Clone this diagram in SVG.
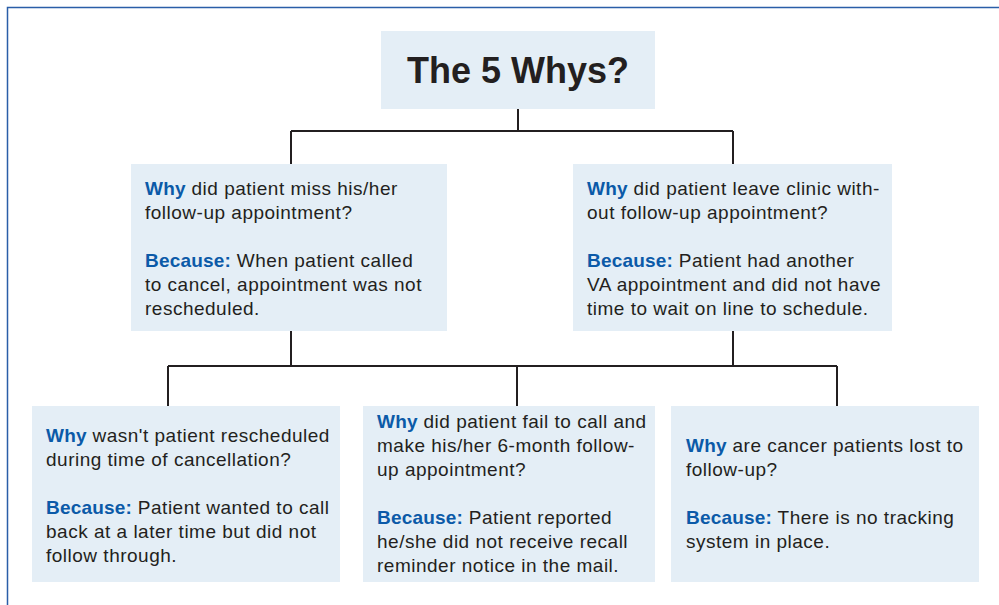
<svg xmlns="http://www.w3.org/2000/svg" width="999" height="605" viewBox="0 0 999 605">
<style>
.box{fill:#e4eef6}
.t{font-family:"Liberation Sans",Arial,sans-serif;font-size:19px;letter-spacing:0.5px;fill:#231f20}
.b{font-weight:bold;fill:#0b5aa8;letter-spacing:0.2px}
.title{font-family:"Liberation Sans",Arial,sans-serif;font-size:36px;font-weight:bold;fill:#231f20}
.c{fill:none;stroke:#231f20;stroke-width:2}
</style>
<rect width="999" height="605" fill="#ffffff"/>
<path d="M7.5,605 V7.5 H999" fill="none" stroke="#2a5ea8" stroke-width="1.5"/>
<g id="connectors">
<path class="c" d="M518,109 V131 M291,131 H733 M291,131 V164 M733,131 V164"/>
<path class="c" d="M291,331 V366 M733,331 V366 M168,366 H837 M168,366 V406 M517,366 V406 M837,366 V406"/>
</g>
<g id="title">
<rect class="box" x="381" y="31" width="274" height="78"/>
<text class="title" x="518" y="83" text-anchor="middle">The 5 Whys?</text>
</g>
<g id="why1">
<rect class="box" x="131" y="164" width="316" height="167"/>
<text class="t" x="145" y="195"><tspan class="b">Why</tspan> did patient miss his/her</text>
<text class="t" x="145" y="219">follow-up appointment?</text>
<text class="t" x="145" y="267"><tspan class="b">Because:</tspan> When patient called</text>
<text class="t" x="145" y="291">to cancel, appointment was not</text>
<text class="t" x="145" y="315">rescheduled.</text>
</g>
<g id="why2">
<rect class="box" x="573" y="164" width="319" height="167"/>
<text class="t" x="587" y="195"><tspan class="b">Why</tspan> did patient leave clinic with-</text>
<text class="t" x="587" y="219">out follow-up appointment?</text>
<text class="t" x="587" y="267"><tspan class="b">Because:</tspan> Patient had another</text>
<text class="t" x="587" y="291">VA appointment and did not have</text>
<text class="t" x="587" y="315">time to wait on line to schedule.</text>
</g>
<g id="why3">
<rect class="box" x="32" y="406" width="308" height="176"/>
<text class="t" x="46" y="442"><tspan class="b">Why</tspan> wasn't patient rescheduled</text>
<text class="t" x="46" y="466">during time of cancellation?</text>
<text class="t" x="46" y="514"><tspan class="b">Because:</tspan> Patient wanted to call</text>
<text class="t" x="46" y="538">back at a later time but did not</text>
<text class="t" x="46" y="562">follow through.</text>
</g>
<g id="why4">
<rect class="box" x="363" y="406" width="292" height="176"/>
<text class="t" x="377" y="428"><tspan class="b">Why</tspan> did patient fail to call and</text>
<text class="t" x="377" y="452">make his/her 6-month follow-</text>
<text class="t" x="377" y="476">up appointment?</text>
<text class="t" x="377" y="524"><tspan class="b">Because:</tspan> Patient reported</text>
<text class="t" x="377" y="548">he/she did not receive recall</text>
<text class="t" x="377" y="572">reminder notice in the mail.</text>
</g>
<g id="why5">
<rect class="box" x="671" y="406" width="308" height="176"/>
<text class="t" x="686" y="452"><tspan class="b">Why</tspan> are cancer patients lost to</text>
<text class="t" x="686" y="476">follow-up?</text>
<text class="t" x="686" y="524"><tspan class="b">Because:</tspan> There is no tracking</text>
<text class="t" x="686" y="548">system in place.</text>
</g>
</svg>
